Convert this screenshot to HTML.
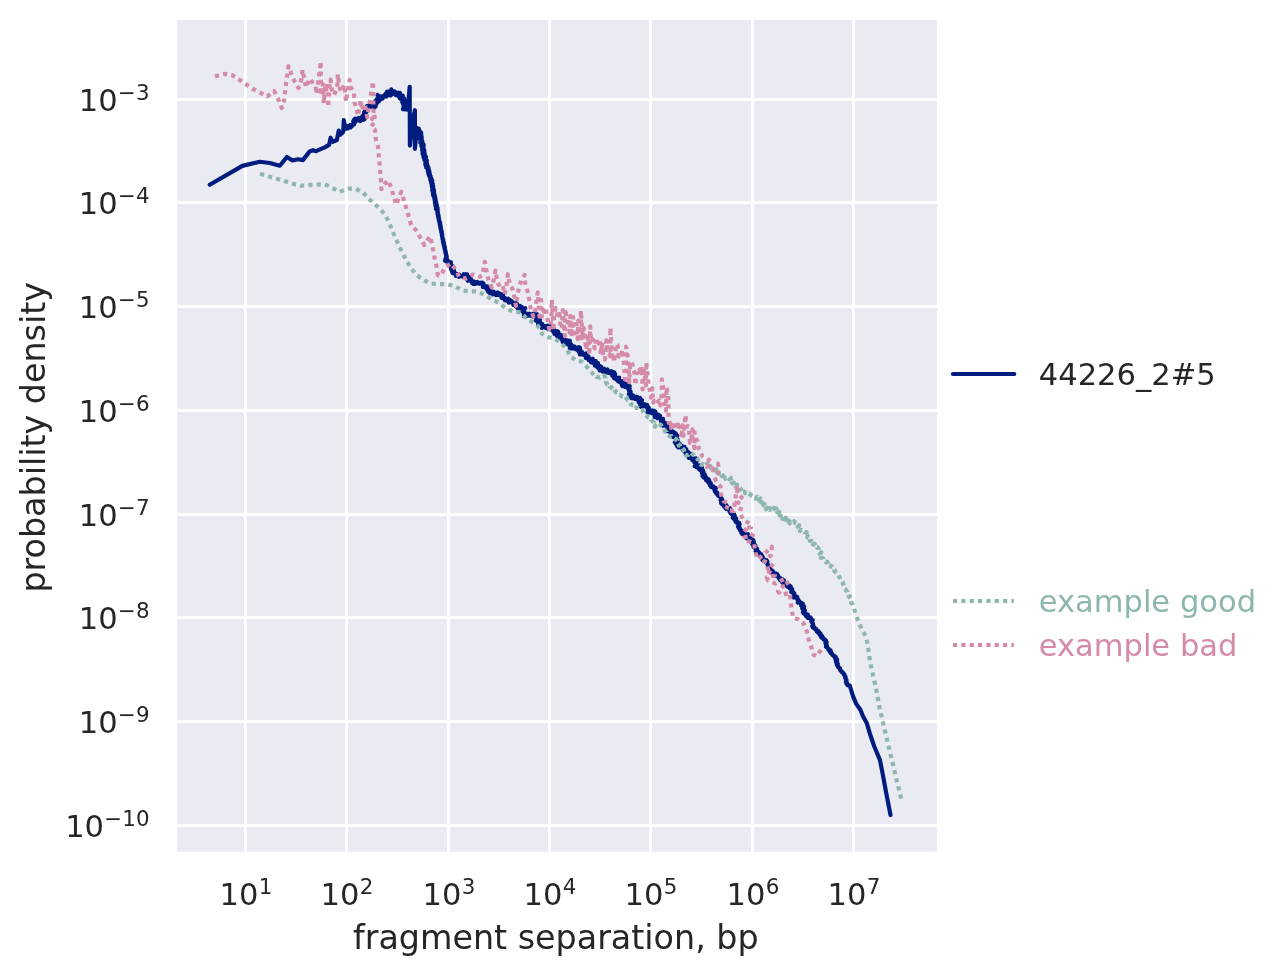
<!DOCTYPE html>
<html><head><meta charset="utf-8"><title>fragment separation</title>
<style>
html,body{margin:0;padding:0;background:#fff}
svg{display:block}
text{font-family:"DejaVu Sans","Liberation Sans",sans-serif;fill:#262626}
.t{font-size:30.56px}
.s{font-size:21.4px}
.l{font-size:33.33px}
</style></head><body>
<svg width="1283" height="976" viewBox="0 0 1283 976">
<rect x="0" y="0" width="1283" height="976" fill="#ffffff"/>
<rect x="177.2" y="19.9" width="759.8" height="831.85" fill="#eaeaf2"/>
<g stroke="#ffffff" stroke-width="3" stroke-linecap="butt">
<line x1="245.5" y1="19.9" x2="245.5" y2="851.75"/>
<line x1="346.5" y1="19.9" x2="346.5" y2="851.75"/>
<line x1="448.5" y1="19.9" x2="448.5" y2="851.75"/>
<line x1="549.5" y1="19.9" x2="549.5" y2="851.75"/>
<line x1="650.5" y1="19.9" x2="650.5" y2="851.75"/>
<line x1="752.5" y1="19.9" x2="752.5" y2="851.75"/>
<line x1="853.5" y1="19.9" x2="853.5" y2="851.75"/>
<line x1="177.2" y1="99.5" x2="937.0" y2="99.5"/>
<line x1="177.2" y1="202.5" x2="937.0" y2="202.5"/>
<line x1="177.2" y1="306.5" x2="937.0" y2="306.5"/>
<line x1="177.2" y1="410.5" x2="937.0" y2="410.5"/>
<line x1="177.2" y1="514.5" x2="937.0" y2="514.5"/>
<line x1="177.2" y1="617.5" x2="937.0" y2="617.5"/>
<line x1="177.2" y1="721.5" x2="937.0" y2="721.5"/>
<line x1="177.2" y1="825.5" x2="937.0" y2="825.5"/>
</g>
<clipPath id="c"><rect x="177.2" y="19.9" width="759.8" height="831.85"/></clipPath>
<g clip-path="url(#c)" fill="none" stroke-linejoin="round">
<path d="M209.7 184.8 L242.4 165.9 L259.6 161.8 L269.8 163.0 L279.8 165.7 L286.9 157.0 L292.5 160.5 L297.9 159.3 L302.9 160.1 L309.7 151.4 L312.9 150.2 L316.0 151.2 L324.7 147.4 L329.1 144.9 L330.6 137.7 L332.8 141.8 L336.9 140.0 L338.7 130.6 L340.3 134.7 L343.2 132.0 L343.8 120.2 L345.4 128.8 L346.2 128.7 L346.2 127.2 L347.8 128.4 L347.4 126.4 L348.5 126.6 L348.8 125.8 L350.7 127.4 L350.1 125.1 L351.8 126.3 L351.9 125.1 L352.7 125.0 L352.9 123.9 L354.1 124.4 L354.3 123.3 L353.3 121.1 L355.2 122.0 L354.1 119.7 L355.6 120.3 L355.1 118.6 L357.7 120.4 L357.4 118.8 L360.4 121.1 L358.6 117.9 L361.0 119.6 L360.9 118.2 L363.4 119.9 L361.7 117.0 L364.6 119.0 L362.7 115.8 L363.8 115.6 L364.5 115.1 L364.0 113.9 L365.3 113.8 L364.2 112.2 L366.1 112.5 L365.5 111.2 L364.9 109.9 L367.3 110.6 L366.2 109.1 L367.1 108.7 L366.8 107.7 L368.5 107.9 L367.0 106.0 L370.2 107.2 L369.8 106.0 L371.9 106.5 L370.2 104.6 L370.2 103.7 L372.0 105.6 L372.3 104.6 L374.6 107.5 L373.5 103.8 L375.7 106.5 L374.9 103.2 L376.1 104.0 L375.4 100.9 L377.2 102.9 L376.8 100.4 L376.8 99.0 L379.2 101.2 L378.2 98.5 L379.2 98.6 L377.6 94.9 L381.3 99.0 L380.5 96.4 L382.7 98.3 L382.4 96.6 L383.1 96.0 L383.9 95.8 L384.6 95.0 L385.4 96.4 L386.1 96.6 L386.0 93.3 L387.1 94.5 L387.1 91.5 L388.9 95.2 L388.8 91.7 L390.6 95.3 L391.3 89.4 L392.0 94.5 L392.8 93.1 L393.7 91.4 L394.2 93.7 L395.1 91.7 L395.5 94.8 L396.1 95.2 L398.4 92.8 L398.0 94.9 L400.0 93.0 L398.8 96.4 L399.2 97.1 L402.8 95.6 L399.9 98.5 L403.0 97.4 L401.3 99.4 L404.1 98.4 L403.0 100.0 L404.0 100.3 L402.3 102.3 L405.7 101.0 L403.0 103.7 L405.5 103.0 L403.6 105.1 L405.1 105.0 L403.5 107.0 L405.1 106.9 L403.0 109.2 L405.8 108.2 L405.2 109.5 L407.7 108.8 L407.6 109.8 L409.7 86.8 L409.9 145.6 L412.3 122.4 L414.9 110.2 L414.9 148.8 L417.0 128.0 L416.8 129.1 L418.8 128.6 L417.7 130.4 L419.3 130.1 L418.9 131.4 L419.8 131.7 L421.0 132.3 L419.4 133.4 L421.3 133.8 L419.4 135.0 L421.2 135.4 L419.1 136.6 L421.7 136.9 L420.4 138.0 L421.6 138.5 L420.1 139.6 L421.8 140.1 L420.6 141.1 L422.3 141.6 L420.3 142.8 L422.7 143.1 L421.6 144.1 L423.6 144.6 L421.3 145.8 L423.6 146.2 L421.9 147.3 L423.4 147.8 L422.4 148.8 L424.0 149.3 L422.2 150.4 L424.4 150.8 L422.8 151.9 L424.0 152.5 L422.6 153.5 L424.8 153.9 L423.2 155.0 L424.9 155.5 L423.5 156.5 L426.0 156.9 L423.8 158.1 L424.8 158.7 L425.8 159.2 L424.6 160.3 L426.8 160.4 L425.6 161.6 L426.7 162.0 L425.4 163.2 L427.0 163.5 L425.4 164.8 L427.2 165.0 L426.1 166.2 L427.9 166.4 L426.3 167.7 L428.5 167.8 L428.0 168.7 L427.7 169.6 L429.0 170.1 L428.0 171.2 L429.4 171.6 L428.3 172.8 L429.6 173.2 L428.6 174.3 L430.0 174.8 L429.1 175.8 L430.6 176.3 L429.9 177.3 L430.9 177.8 L430.3 178.8 L431.7 179.3 L430.5 180.4 L432.2 180.8 L431.1 181.9 L432.2 182.5 L431.4 183.5 L432.8 183.9 L432.3 184.9 L431.8 185.8 L433.2 186.3 L432.1 187.3 L433.1 187.9 L432.4 188.9 L433.8 189.4 L432.3 190.5 L434.0 191.0 L432.9 192.0 L434.0 192.6 L433.0 193.5 L434.3 194.1 L433.2 195.1 L434.8 195.6 L433.7 196.6 L435.0 197.2 L434.4 198.1 L435.4 198.7 L434.6 199.6 L435.6 200.2 L435.0 201.2 L436.0 201.8 L435.0 202.8 L436.2 203.3 L435.4 204.3 L436.7 204.8 L435.5 205.9 L437.1 206.4 L436.1 207.3 L437.4 207.9 L436.0 209.0 L437.7 209.4 L436.9 210.4 L437.3 211.1 L437.8 211.8 L437.4 212.7 L438.0 213.4 L437.6 214.3 L438.4 214.9 L438.0 215.8 L438.7 216.5 L438.2 217.4 L438.9 218.1 L438.6 218.9 L439.1 219.6 L438.9 220.5 L439.6 221.2 L439.3 222.1 L440.1 222.7 L439.6 223.6 L440.3 224.3 L440.0 225.2 L440.6 225.9 L440.2 226.7 L440.9 227.4 L440.5 228.3 L441.1 229.0 L441.1 229.8 L441.0 230.6 L441.7 231.3 L441.3 232.1 L441.8 232.9 L441.6 233.7 L442.2 234.4 L441.9 235.2 L442.3 235.9 L442.1 236.8 L442.4 237.5 L442.7 238.2 L442.5 239.1 L443.2 239.7 L442.9 240.6 L443.5 241.3 L443.1 242.1 L443.8 242.8 L443.4 243.7 L444.0 244.4 L443.8 245.2 L444.5 245.8 L444.1 246.7 L444.9 247.4 L444.5 248.3 L445.1 248.9 L444.9 249.8 L445.4 250.5 L445.2 251.3 L445.8 252.0 L445.5 252.9 L446.1 253.5 L445.9 254.4 L446.5 255.1 L446.1 255.9 L446.8 256.6 L446.7 257.4 L445.5 258.9 L446.7 259.1 L445.1 260.8 L447.7 260.2 L446.6 261.6 L448.6 261.3 L449.2 261.8 L448.8 263.2 L451.0 262.4 L449.6 264.5 L451.1 264.4 L450.1 266.1 L452.0 265.6 L451.0 267.4 L452.8 267.0 L453.6 267.4 L451.0 269.0 L453.3 269.1 L451.6 270.4 L454.0 270.4 L452.2 271.7 L454.2 271.8 L452.6 273.1 L455.4 273.0 L455.7 274.2 L455.9 275.8 L457.5 274.1 L457.6 275.8 L459.0 274.4 L458.9 276.8 L460.2 275.7 L461.1 275.5 L462.2 276.5 L462.7 275.8 L463.6 276.1 L463.8 274.2 L465.0 275.6 L465.4 274.2 L467.1 274.4 L464.8 276.0 L467.5 275.9 L466.5 277.0 L469.1 276.9 L466.7 278.5 L469.2 278.5 L467.3 279.9 L467.9 280.7 L469.4 277.8 L469.6 280.2 L470.8 278.7 L470.9 281.2 L471.9 280.5 L472.1 283.1 L473.1 282.2 L473.5 284.0 L474.8 281.7 L475.1 283.0 L475.6 283.8 L477.3 281.9 L477.5 283.5 L478.7 282.7 L479.2 283.6 L480.4 282.8 L480.9 283.5 L482.1 282.7 L482.4 284.1 L483.5 283.5 L483.5 285.5 L482.9 287.0 L485.3 286.1 L484.9 287.5 L487.3 286.5 L486.4 288.2 L488.4 287.7 L487.0 289.8 L488.4 289.7 L487.9 291.1 L488.5 291.9 L489.4 290.3 L489.8 293.1 L490.6 292.1 L491.2 293.3 L492.1 291.5 L492.6 293.5 L493.5 291.7 L493.6 292.6 L493.0 294.4 L495.2 292.9 L495.3 293.8 L497.4 292.4 L496.0 295.1 L497.2 294.8 L498.0 293.1 L498.7 295.1 L499.5 293.5 L500.2 293.8 L501.0 294.8 L503.0 294.1 L501.4 296.3 L503.0 296.0 L501.7 298.0 L503.4 297.5 L503.3 298.5 L505.0 298.0 L504.7 299.2 L505.0 300.4 L506.3 299.5 L506.5 300.7 L508.3 298.7 L508.1 300.9 L509.4 300.0 L508.9 302.7 L510.8 300.5 L510.8 302.3 L512.1 301.5 L512.2 302.9 L513.1 303.0 L514.0 303.1 L513.4 304.9 L516.0 303.1 L515.5 304.8 L517.1 304.0 L516.0 306.5 L517.2 306.2 L517.2 307.3 L517.7 308.5 L518.9 306.2 L519.2 308.4 L520.4 306.0 L520.6 309.1 L521.7 306.9 L522.2 308.3 L522.6 308.8 L525.2 308.2 L522.3 310.7 L524.4 310.2 L522.8 312.0 L524.0 312.1 L524.7 312.5 L523.8 316.3 L525.8 313.8 L525.3 316.7 L527.5 313.9 L527.4 315.7 L529.3 313.7 L529.6 314.8 L530.1 315.5 L531.6 314.3 L531.5 315.9 L533.6 313.8 L532.8 316.6 L535.3 313.8 L534.8 316.2 L536.8 314.1 L535.8 317.5 L537.2 316.5 L535.8 320.6 L537.3 319.4 L537.3 320.8 L538.7 319.9 L540.1 319.7 L538.0 322.9 L539.8 322.2 L538.2 324.9 L541.0 323.2 L539.4 325.9 L542.4 324.1 L541.3 326.4 L542.6 326.2 L542.0 327.9 L544.9 326.1 L545.8 326.0 L545.5 327.9 L547.7 325.6 L547.0 328.3 L549.2 325.9 L548.2 329.2 L550.7 326.3 L550.7 327.8 L551.8 327.3 L551.2 329.8 L552.0 329.9 L553.3 327.6 L553.2 331.7 L554.4 330.1 L554.4 334.0 L555.7 331.7 L555.9 334.3 L557.4 331.1 L558.1 331.6 L556.4 334.4 L558.7 333.2 L556.9 336.1 L559.0 335.1 L558.2 337.1 L561.2 335.2 L560.3 337.2 L563.0 335.6 L561.1 338.7 L563.6 337.3 L563.3 338.8 L562.4 341.0 L564.7 339.5 L563.1 342.4 L566.1 340.3 L565.7 341.8 L567.8 340.6 L566.5 343.3 L569.8 340.7 L567.5 344.4 L569.9 342.9 L570.3 343.6 L569.6 345.8 L571.4 344.8 L569.8 348.1 L572.1 346.6 L571.4 348.6 L574.3 346.4 L573.5 348.5 L575.5 347.4 L576.1 347.9 L576.0 349.4 L578.6 347.1 L578.2 349.0 L579.9 347.8 L578.5 351.2 L580.4 349.7 L579.3 352.6 L580.8 351.8 L579.9 354.5 L582.4 352.3 L582.3 353.7 L582.7 354.6 L583.5 354.7 L584.1 355.1 L586.2 353.4 L585.4 356.0 L586.6 355.5 L585.8 358.1 L588.0 356.1 L588.6 356.6 L588.0 358.8 L589.2 358.4 L588.8 360.2 L590.4 359.4 L590.6 360.4 L592.7 358.7 L591.1 362.3 L592.8 361.2 L592.6 362.8 L594.8 361.0 L595.8 361.1 L594.3 363.9 L595.3 363.9 L594.9 365.6 L598.0 363.1 L597.0 365.4 L598.3 365.2 L597.4 367.3 L599.6 366.0 L598.6 368.3 L601.1 366.6 L601.1 367.8 L599.8 370.5 L602.3 368.7 L601.8 370.5 L604.2 368.7 L602.8 371.6 L605.4 369.6 L604.9 371.4 L607.4 369.5 L606.0 372.5 L607.5 371.8 L608.9 371.4 L608.6 372.9 L611.2 371.2 L610.6 373.1 L612.6 372.0 L611.7 374.2 L614.3 372.5 L612.4 375.8 L615.1 374.0 L613.5 376.9 L615.2 376.2 L614.3 378.4 L615.0 378.7 L617.0 377.8 L617.0 378.9 L619.2 377.6 L617.3 380.6 L618.8 380.2 L618.4 381.6 L619.6 381.5 L619.9 382.2 L622.1 381.2 L621.5 382.8 L623.1 382.2 L621.8 384.6 L623.4 384.0 L622.4 386.1 L623.6 385.7 L625.7 383.8 L624.7 386.8 L627.0 384.6 L626.4 386.9 L628.0 385.9 L627.7 387.6 L629.7 386.1 L628.5 389.2 L629.7 388.8 L629.1 390.9 L629.9 391.1 L630.6 391.5 L628.9 394.2 L630.7 393.5 L629.5 395.8 L631.7 394.7 L630.7 396.8 L633.0 395.5 L631.5 398.1 L633.6 397.1 L633.3 398.5 L636.0 396.8 L635.1 398.8 L637.7 397.2 L637.4 398.6 L637.2 399.8 L640.1 398.0 L638.6 400.6 L640.9 399.4 L638.9 402.5 L642.1 400.3 L640.9 402.6 L641.6 403.0 L640.2 405.4 L642.0 404.7 L641.0 406.8 L644.6 404.2 L643.6 406.3 L644.9 406.1 L647.2 404.9 L646.3 406.9 L647.8 406.4 L647.3 408.0 L648.8 407.6 L647.8 409.7 L649.0 409.5 L647.4 412.2 L650.2 410.4 L649.0 412.7 L652.3 410.5 L651.9 411.9 L654.2 410.8 L652.4 413.6 L654.0 412.6 L655.4 411.8 L654.8 414.1 L656.1 413.4 L654.6 417.0 L657.3 414.4 L656.8 416.4 L658.7 414.9 L657.4 418.2 L660.0 415.7 L659.3 418.2 L659.9 418.6 L661.2 418.5 L660.8 419.8 L663.1 418.9 L661.1 421.6 L662.9 421.0 L661.9 422.9 L663.8 422.3 L663.0 424.0 L665.2 423.0 L663.2 425.8 L667.3 423.3 L665.6 425.7 L668.9 423.9 L668.0 425.7 L667.3 427.3 L669.4 426.6 L667.2 429.4 L669.6 428.5 L667.5 431.2 L670.8 429.6 L669.3 431.8 L670.9 431.5 L670.5 432.9 L673.2 431.7 L673.4 432.5 L674.7 432.5 L672.6 435.2 L675.9 433.6 L673.0 436.9 L674.8 436.5 L677.2 435.6 L675.3 438.1 L676.7 438.0 L676.0 439.5 L677.6 439.3 L674.8 442.3 L677.7 441.1 L675.7 443.6 L677.6 443.2 L676.6 444.9 L679.6 443.6 L677.3 446.4 L679.9 445.3 L678.4 447.5 L681.9 445.9 L682.3 446.5 L681.7 447.9 L684.5 446.8 L682.6 449.1 L683.6 449.4 L683.4 450.5 L686.4 449.3 L685.2 451.1 L686.4 451.1 L685.4 452.9 L687.9 452.0 L686.9 453.7 L689.1 453.0 L688.2 454.6 L690.7 453.8 L688.9 456.0 L690.8 455.6 L688.8 458.0 L691.8 456.8 L691.0 458.3 L692.9 457.9 L692.8 459.0 L692.4 460.2 L696.0 458.4 L694.3 460.7 L696.6 459.9 L694.5 462.5 L696.6 461.8 L695.4 463.7 L696.2 464.1 L694.7 466.2 L696.6 465.7 L696.2 467.0 L699.3 465.5 L698.5 467.1 L700.4 466.6 L698.7 468.9 L701.9 467.4 L699.9 469.9 L700.7 470.4 L702.9 470.1 L701.7 471.5 L703.5 471.5 L702.0 473.1 L703.0 473.5 L702.6 474.5 L704.8 474.3 L702.6 476.2 L705.2 475.8 L703.7 477.4 L704.3 477.9 L706.1 477.3 L705.7 478.7 L707.1 478.5 L706.2 480.3 L708.6 479.3 L708.1 480.7 L709.3 480.6 L708.4 482.5 L709.9 482.2 L709.4 483.6 L710.9 483.3 L709.9 485.2 L711.0 485.2 L711.2 486.1 L711.1 487.2 L713.3 486.3 L713.0 487.6 L714.4 487.4 L714.1 488.6 L715.8 488.2 L714.5 490.3 L715.4 490.6 L715.1 491.8 L716.1 491.9 L716.0 493.0 L717.4 492.8 L717.0 494.2 L718.2 494.2 L718.6 494.8 L718.3 495.9 L720.4 495.5 L720.1 496.6 L720.7 497.2 L720.8 498.1 L721.7 498.4 L720.6 500.0 L722.3 500.0 L721.1 501.6 L722.2 501.9 L721.2 503.4 L722.9 503.3 L722.4 504.5 L724.3 504.2 L724.9 504.8 L724.1 506.5 L726.4 505.5 L725.1 507.6 L727.3 506.7 L725.9 508.8 L728.3 507.8 L728.2 508.9 L730.0 508.3 L729.2 510.0 L730.6 509.8 L729.6 511.6 L731.4 511.1 L731.1 512.3 L730.7 513.4 L732.7 513.3 L732.0 514.5 L734.2 514.3 L733.6 515.5 L734.8 515.8 L732.8 517.7 L735.1 517.4 L733.9 518.9 L736.3 518.6 L734.9 520.2 L736.1 520.5 L735.6 521.6 L736.1 522.3 L737.9 522.0 L737.4 523.2 L739.2 522.9 L738.6 524.3 L739.6 524.5 L738.0 526.6 L739.1 526.7 L738.7 527.9 L739.8 528.1 L739.5 529.2 L740.5 529.4 L740.3 530.5 L741.3 530.8 L742.3 531.0 L741.4 532.9 L742.6 532.7 L742.3 534.1 L744.3 533.3 L744.0 534.6 L745.7 534.1 L745.7 535.1 L747.9 534.1 L746.8 536.2 L747.4 536.7 L746.6 538.4 L748.5 537.7 L748.6 538.6 L751.0 537.5 L750.0 539.4 L751.2 539.6 L752.7 539.6 L751.9 541.0 L753.6 540.9 L753.0 542.2 L753.9 542.6 L752.4 544.5 L753.8 544.5 L754.2 545.2 L755.4 545.4 L753.7 547.4 L755.0 547.5 L755.5 548.1 L755.7 548.9 L757.1 548.7 L755.6 551.1 L757.4 550.5 L756.9 552.0 L758.4 551.7 L757.4 553.6 L759.4 552.9 L758.5 554.7 L760.4 554.0 L761.2 554.3 L760.0 556.0 L762.0 555.6 L762.0 556.5 L762.8 557.0 L762.2 558.3 L763.4 558.4 L762.5 559.9 L764.4 559.6 L763.8 561.0 L766.6 560.2 L765.2 561.9 L767.5 561.4 L766.4 563.1 L767.3 563.4 L767.6 564.1 L768.2 564.7 L767.9 565.8 L768.7 566.2 L769.3 566.7 L768.7 568.0 L770.1 568.0 L769.1 569.5 L770.6 569.4 L770.4 570.5 L771.9 570.3 L770.8 571.9 L773.1 571.3 L771.8 573.1 L773.3 573.0 L773.7 573.6 L773.8 574.8 L775.8 573.4 L774.9 575.9 L777.2 574.1 L777.1 575.7 L778.1 575.6 L778.1 576.9 L778.7 577.4 L779.7 577.6 L779.3 579.0 L780.7 578.8 L780.2 580.3 L782.4 579.5 L782.3 580.6 L783.9 580.3 L782.4 582.5 L783.3 582.9 L783.6 583.6 L783.8 584.6 L785.6 583.4 L785.4 584.9 L786.3 584.9 L786.5 585.8 L788.4 584.6 L787.6 586.8 L789.5 585.6 L789.4 586.9 L790.7 586.4 L789.9 588.6 L791.1 588.8 L792.2 589.1 L791.9 590.2 L792.3 590.8 L791.3 592.1 L793.1 592.1 L793.1 592.9 L794.3 593.2 L793.7 594.3 L794.1 595.0 L793.6 596.1 L793.3 597.5 L795.7 596.2 L795.7 597.3 L797.2 596.9 L796.6 598.7 L797.7 598.7 L797.8 599.7 L798.6 600.0 L798.6 601.1 L797.8 602.6 L800.0 602.0 L799.7 603.1 L801.4 602.8 L801.3 603.8 L802.8 603.7 L801.2 605.7 L802.9 605.5 L802.1 606.9 L804.2 606.4 L802.3 608.6 L803.6 608.6 L804.1 609.2 L803.9 610.2 L805.0 610.6 L803.0 612.3 L804.5 612.5 L803.9 613.6 L805.8 613.7 L805.9 614.5 L807.9 614.5 L806.0 616.2 L808.3 616.0 L807.3 617.3 L807.9 617.8 L809.2 617.1 L809.4 618.2 L810.7 617.6 L810.8 618.9 L811.1 619.8 L812.7 620.0 L811.3 621.4 L812.2 621.9 L812.2 622.8 L812.9 623.3 L812.7 624.3 L813.2 624.9 L812.2 626.2 L813.4 626.5 L812.9 627.6 L814.7 627.7 L814.8 628.5 L815.1 629.2 L816.3 629.2 L816.2 630.2 L816.9 630.6 L816.8 631.6 L818.5 631.2 L818.0 632.5 L819.2 632.4 L819.0 633.6 L820.4 633.4 L819.8 634.8 L820.7 634.9 L821.5 635.2 L821.0 636.9 L822.4 636.5 L822.1 637.9 L823.2 637.8 L823.6 638.5 L823.6 639.4 L825.0 639.6 L824.9 640.5 L826.1 640.8 L825.7 641.9 L826.6 642.4 L825.6 643.6 L826.4 644.2 L826.1 645.2 L826.9 645.6 L826.0 646.9 L827.3 647.2 L827.6 647.9 L827.8 648.6 L828.9 649.0 L828.5 650.0 L829.3 650.4 L830.6 650.4 L829.9 651.9 L831.2 651.8 L830.8 653.2 L831.9 653.3 L832.1 654.1 L832.4 654.9 L833.3 655.2 L833.5 656.0 L834.8 656.0 L834.6 657.1 L835.8 657.2 L835.4 658.4 L835.5 659.3 L837.1 659.6 L835.9 660.7 L837.1 661.1 L836.2 662.1 L837.2 662.5 L836.7 663.5 L837.8 663.9 L836.9 664.9 L837.4 665.5 L838.1 666.0 L838.0 666.9 L838.9 667.2 L839.0 668.0 L840.0 668.3 L839.9 669.3 L840.5 669.8 L840.5 670.7 L841.1 671.2 L841.9 671.4 L842.0 672.3 L842.9 672.5 L843.1 673.2 L843.7 673.6 L843.8 674.5 L844.6 674.8 L844.8 675.5 L844.8 676.3 L845.5 676.9 L845.1 677.7 L845.8 678.3 L845.7 679.1 L846.4 679.7 L846.1 680.6 L846.5 681.2 L846.0 682.1 L846.9 682.7 L846.5 683.6 L847.3 684.1 L847.3 684.9 L847.9 685.3 L848.6 685.1 L849.1 685.6 L849.8 685.5 L853.0 696.1 L856.1 703.6 L860.4 709.8 L862.9 716.0 L866.7 722.9 L869.9 733.7 L874.2 746.2 L879.9 759.9 L882.4 772.4 L886.1 792.3 L890.5 815.0" stroke="#001c7f" stroke-width="4.17" stroke-linecap="round"/>
<path d="M260.1 173.8 L276.1 178.6 L292.3 183.6 L300.4 185.8 L308.5 185.2 L317.2 184.6 L324.7 184.3 L332.2 187.9 L339.7 191.7 L348.4 188.6 L355.9 188.8 L363.1 192.4 L368.5 198.6 L375.0 204.2 L381.0 209.8 L385.9 216.3 L389.7 223.8 L392.7 231.6 L396.2 239.5 L399.5 247.0 L403.1 254.3 L407.2 261.8 L411.4 268.6 L416.4 274.9 L423.4 279.9 L430.5 283.6 L438.6 284.2 L447.3 284.2 L454.8 286.1 L462.3 290.5 L469.8 291.3 L477.3 291.3 L484.8 294.8 L491.6 299.2 L499.1 302.9 L506.0 308.5 L513.4 311.7 L520.9 312.3 L525.3 317.3 L531.8 321.7 L538.1 326.1 L541.8 333.6 L548.7 337.3 L554.9 338.6 L560.5 342.9 L566.8 348.5 L569.9 356.0 L576.1 360.4 L581.7 361.6 L587.3 367.2 L594.2 375.4 L594.8 376.5 L596.1 375.9 L596.6 377.0 L597.7 376.9 L598.6 377.2 L599.6 377.7 L600.4 377.0 L601.4 377.1 L602.1 376.4 L603.2 377.2 L604.0 376.3 L604.8 375.8 L604.7 376.7 L605.4 377.6 L605.0 378.6 L605.9 379.3 L605.7 380.3 L606.4 381.1 L605.9 382.1 L606.2 383.0 L607.1 383.3 L607.2 384.6 L608.3 384.6 L608.4 385.9 L609.8 385.7 L609.9 387.0 L610.9 387.1 L611.8 387.4 L611.9 388.7 L613.1 388.7 L613.3 389.9 L614.7 389.8 L614.7 391.1 L615.9 391.2 L616.0 392.4 L617.3 392.4 L617.5 393.5 L618.3 394.0 L618.7 395.0 L620.0 394.9 L620.7 395.5 L621.4 396.4 L622.5 396.1 L623.2 396.7 L624.3 396.4 L624.9 397.3 L625.9 397.3 L626.8 397.4 L626.5 398.7 L627.4 399.3 L627.6 400.4 L628.9 400.7 L629.1 401.7 L629.9 402.4 L630.4 403.1 L630.7 404.0 L631.9 404.2 L632.2 405.1 L633.4 405.3 L633.4 406.4 L634.6 406.7 L634.3 408.0 L635.3 407.7 L636.2 407.7 L637.1 408.1 L638.1 407.7 L639.0 408.7 L639.9 408.6 L641.0 408.8 L641.1 410.0 L642.4 410.1 L642.7 411.1 L643.6 411.6 L643.3 413.0 L644.3 413.4 L644.5 414.4 L645.5 414.8 L646.2 415.4 L646.7 416.1 L647.6 416.5 L647.9 417.5 L649.0 417.6 L649.2 418.8 L650.2 418.9 L651.1 419.2 L651.1 420.2 L652.3 420.7 L652.7 421.6 L653.7 422.1 L653.3 423.3 L654.1 423.9 L654.1 425.0 L655.2 425.5 L654.9 426.7 L655.6 426.0 L655.9 425.0 L656.9 424.5 L656.8 423.2 L658.0 422.9 L658.9 423.4 L659.6 424.0 L660.1 424.8 L661.2 425.1 L661.3 426.2 L662.5 426.5 L662.6 427.6 L663.4 428.1 L663.6 429.2 L664.2 430.0 L665.1 430.6 L665.4 431.6 L666.6 431.9 L666.6 433.2 L667.7 433.5 L667.8 434.8 L668.6 435.4 L669.4 436.0 L670.2 436.6 L671.5 436.2 L672.0 437.5 L673.3 437.0 L674.0 437.9 L674.8 438.5 L676.0 438.8 L676.0 439.9 L677.1 440.3 L676.8 441.5 L677.8 442.0 L677.7 443.1 L678.4 443.7 L678.6 444.6 L678.7 445.6 L680.1 445.3 L680.1 446.6 L681.1 446.8 L681.4 448.0 L682.4 448.1 L682.8 449.0 L683.7 449.3 L684.1 450.2 L683.9 451.3 L684.6 452.1 L684.1 453.3 L685.3 453.9 L685.3 454.9 L686.2 455.6 L686.9 454.9 L688.3 455.0 L688.8 454.0 L689.8 453.7 L690.0 452.4 L690.9 452.8 L691.6 453.4 L692.5 453.8 L692.9 454.9 L694.0 455.0 L694.4 456.1 L695.6 456.1 L696.2 456.8 L696.6 457.7 L697.3 458.4 L697.5 459.4 L698.3 460.1 L698.0 461.4 L698.8 462.1 L698.5 463.3 L699.9 463.7 L700.8 464.5 L701.8 465.1 L702.7 463.9 L703.6 464.6 L704.6 463.4 L705.5 465.1 L706.5 463.9 L707.4 463.7 L706.9 465.8 L708.5 465.4 L708.3 467.2 L710.4 466.2 L710.4 467.7 L711.6 467.8 L712.2 468.6 L713.6 468.4 L713.2 470.4 L714.9 469.9 L716.2 469.4 L716.0 471.6 L717.2 471.3 L717.6 472.5 L718.8 472.2 L718.8 473.9 L720.6 472.6 L721.1 473.6 L721.3 474.5 L722.6 474.9 L721.9 476.2 L723.9 476.3 L723.7 477.3 L724.9 477.8 L723.6 479.3 L724.4 479.1 L724.9 477.6 L726.0 478.4 L726.7 477.5 L727.6 477.7 L728.6 478.0 L730.8 477.7 L729.8 479.5 L731.1 479.8 L730.2 481.6 L731.9 481.6 L731.7 482.9 L732.4 483.6 L733.9 482.6 L733.9 484.8 L735.1 484.4 L735.4 485.9 L737.0 484.8 L737.2 486.3 L738.2 486.5 L738.4 488.1 L739.8 487.4 L740.4 488.1 L740.3 489.8 L741.5 490.0 L741.7 491.3 L743.3 490.8 L743.1 492.6 L744.8 492.0 L745.1 493.2 L747.0 492.5 L747.3 493.6 L748.0 494.3 L749.5 493.7 L750.0 494.7 L751.2 494.6 L751.6 495.9 L752.7 495.9 L752.8 497.5 L753.9 497.6 L754.8 498.0 L755.6 498.7 L757.1 496.6 L757.7 498.4 L758.8 498.1 L759.1 500.6 L760.6 498.5 L761.1 500.6 L762.3 499.8 L762.8 500.5 L761.4 502.7 L763.5 502.2 L761.9 504.5 L764.4 503.8 L763.7 505.4 L766.0 504.8 L766.1 505.9 L765.8 507.2 L766.8 507.6 L766.0 509.3 L769.2 508.0 L769.1 509.2 L769.8 509.8 L769.6 508.1 L772.2 510.0 L772.0 508.3 L773.6 509.0 L773.8 507.8 L775.2 508.1 L774.8 506.1 L776.0 506.7 L774.1 508.4 L776.5 508.5 L776.0 509.7 L778.3 509.8 L777.7 511.1 L777.2 512.3 L779.3 511.9 L778.5 513.8 L781.1 513.0 L779.7 515.4 L780.8 515.8 L780.1 517.7 L782.7 516.8 L782.2 518.5 L783.1 519.2 L784.0 518.8 L784.9 520.4 L785.8 517.7 L786.7 520.0 L787.6 517.8 L788.5 518.5 L786.0 520.0 L788.5 520.3 L787.5 521.4 L790.5 521.5 L789.1 522.8 L789.7 523.5 L790.6 522.0 L791.5 523.0 L792.4 522.6 L793.3 523.0 L794.2 521.1 L795.1 522.9 L796.0 523.5 L797.2 524.1 L796.5 525.4 L799.2 525.4 L797.8 526.9 L799.1 527.5 L798.3 528.8 L798.4 529.8 L799.6 529.4 L799.9 531.2 L801.5 529.9 L802.2 530.7 L803.5 530.1 L804.1 531.2 L804.7 532.3 L806.7 532.2 L805.4 533.9 L806.6 534.3 L805.7 535.8 L807.6 535.7 L807.3 536.9 L807.6 537.9 L809.0 537.9 L808.9 539.2 L810.5 539.0 L809.9 540.9 L811.3 540.9 L810.8 542.6 L812.3 542.5 L813.4 542.8 L812.9 544.5 L814.9 543.9 L815.1 545.0 L816.3 545.1 L815.8 546.8 L817.1 546.9 L817.3 548.0 L818.5 548.1 L818.6 549.3 L818.6 550.3 L820.0 550.8 L819.3 552.1 L821.3 552.3 L819.6 554.1 L821.1 554.5 L820.8 555.6 L821.9 556.2 L820.8 557.7 L822.3 558.1 L823.1 558.6 L823.2 560.0 L824.3 560.1 L824.6 561.3 L825.6 561.4 L826.1 562.4 L827.6 562.0 L827.6 563.6 L828.8 563.5 L829.8 563.7 L829.2 565.3 L830.6 565.5 L830.7 566.6 L832.3 566.6 L832.5 567.7 L833.6 568.1 L833.8 569.1 L834.6 569.7 L834.3 571.1 L835.4 571.5 L835.5 572.6 L836.6 573.0 L837.0 573.9 L837.4 574.8 L838.5 575.1 L838.8 576.1 L839.5 576.8 L839.6 577.9 L840.3 578.6 L840.5 579.6 L841.6 580.0 L841.8 581.0 L842.3 581.8 L843.1 582.4 L842.7 583.6 L843.5 584.2 L843.5 585.2 L844.1 585.9 L844.0 586.9 L844.7 587.6 L844.4 588.6 L845.4 589.2 L845.9 590.0 L846.1 590.9 L847.3 591.4 L847.2 592.5 L847.7 593.2 L847.7 594.3 L848.7 594.8 L848.6 595.9 L849.9 596.3 L849.6 597.5 L850.3 598.2 L850.4 599.2 L850.6 600.1 L851.4 600.9 L851.0 602.1 L851.8 602.8 L851.9 603.8 L852.6 604.5 L852.8 605.5 L853.6 606.2 L853.5 607.3 L856.0 614.2 L858.5 622.3 L862.2 629.8 L865.9 636.6 L867.9 645.0 L868.8 653.1 L870.0 661.2 L871.7 669.3 L873.5 677.4 L875.4 685.5 L877.0 693.6 L878.5 701.7 L880.0 709.8 L882.0 717.9 L883.8 726.2 L885.8 734.3 L887.7 742.4 L889.6 750.6 L891.5 758.7 L893.6 766.8 L895.4 774.9 L897.3 783.0 L899.4 791.1 L901.3 799.2 L902.0 801.5" stroke="#8db7ae" stroke-width="4.17" stroke-dasharray="4.17 4.17" stroke-linecap="butt"/>
<path d="M215.0 76.4 L224.3 73.9 L231.8 74.9 L239.3 79.7 L253.0 88.9 L267.3 96.4 L274.2 91.1 L277.9 98.6 L281.7 108.0 L284.2 99.9 L286.0 83.6 L288.5 66.2 L291.0 73.0 L294.2 80.5 L298.5 88.0 L301.6 78.7 L302.5 69.9 L306.0 87.4 L309.7 78.7 L312.7 82.7 L315.5 86.0 L316.6 94.0 L320.8 61.5 L320.9 95.2 L322.8 84.0 L323.8 103.2 L325.4 85.0 L326.6 92.0 L327.6 82.0 L328.2 107.0 L329.4 88.0 L330.6 79.6 L331.5 88.6 L334.1 94.9 L337.2 87.4 L337.8 74.3 L339.0 83.6 L340.9 91.8 L344.7 84.9 L345.9 101.7 L349.6 79.9 L350.9 87.4 L354.0 93.6 L354.5 102.4 L356.2 108.4 L358.1 115.8 L360.9 99.9 L361.8 110.2 L364.6 103.7 L366.1 109.9 L367.2 117.2 L373.1 81.5 L373.5 112.0 L372.1 119.0 L374.5 114.0 L374.6 122.0 L371.2 126.5 L375.0 130.0 L375.8 139.2 L378.1 146.8 L378.7 154.9 L379.6 163.7 L380.2 171.8 L381.0 179.9 L381.4 189.2 L384.3 184.2 L388.1 180.5 L391.4 188.0 L393.7 196.7 L396.2 204.8 L398.7 198.0 L401.2 192.0 L403.9 200.5 L406.4 208.6 L408.6 216.0 L411.1 224.8 L416.1 230.4 L420.5 237.9 L424.3 244.9 L429.9 236.2 L431.8 243.1 L433.4 251.2 L434.9 259.7 L436.7 267.4 L438.0 275.5 L441.7 273.6 L445.5 266.8 L451.1 263.4 L455.4 269.3 L459.2 276.7 L466.0 278.6 L472.9 274.6 L479.8 276.7 L482.9 274.9 L483.5 267.4 L484.8 261.8 L486.6 271.1 L488.5 279.9 L491.6 287.3 L494.1 278.6 L495.4 270.5 L496.6 277.4 L498.5 284.8 L502.2 283.6 L504.7 294.2 L506.0 288.0 L507.2 280.5 L507.8 274.2 L509.7 283.6 L512.8 289.8 L514.7 297.9 L515.9 306.0 L517.8 293.6 L519.7 284.8 L522.2 278.6 L524.7 274.9 L525.3 283.6 L527.8 292.3 L529.6 301.7 L530.9 309.8 L533.4 316.6 L535.9 307.9 L536.5 299.2 L537.8 292.3 L539.0 312.9 L540.1 320.4 L541.2 300.1 L541.7 316.6 L543.0 309.8 L543.9 311.5 L545.3 310.6 L545.9 307.9 L546.9 315.3 L548.1 322.4 L549.2 329.3 L550.5 327.3 L551.5 312.4 L551.8 299.8 L553.4 330.7 L554.3 313.3 L555.7 308.0 L556.6 309.4 L557.7 317.5 L558.9 316.4 L559.5 314.1 L560.6 328.8 L561.9 327.8 L562.8 310.1 L564.2 332.0 L565.0 336.3 L565.2 309.1 L567.3 322.3 L568.4 318.2 L569.5 332.3 L570.4 315.8 L571.6 336.8 L572.3 327.7 L573.2 317.0 L574.3 337.1 L575.6 320.1 L576.7 325.1 L577.6 339.1 L578.4 320.6 L579.5 333.3 L580.9 341.7 L580.8 310.7 L582.9 339.3 L583.8 328.2 L585.2 338.8 L586.0 349.7 L587.0 344.9 L588.1 336.8 L589.3 355.0 L590.2 326.3 L591.1 341.5 L592.6 339.2 L593.6 341.4 L594.6 348.5 L595.4 341.4 L596.7 345.0 L597.7 341.8 L598.7 343.5 L599.7 339.8 L600.9 354.4 L601.9 342.7 L603.1 353.9 L604.2 357.9 L605.0 359.7 L606.3 340.3 L607.2 348.8 L608.3 353.2 L609.1 353.2 L610.3 356.3 L610.4 327.8 L612.1 355.9 L613.2 353.2 L614.1 362.1 L615.2 353.1 L616.3 344.1 L617.5 344.9 L618.7 356.5 L619.4 355.1 L620.6 356.3 L621.7 352.6 L622.6 349.6 L623.9 363.4 L624.9 379.3 L625.9 374.5 L626.0 346.5 L628.1 358.4 L629.2 382.1 L629.9 367.9 L631.3 361.9 L632.5 364.4 L633.1 369.7 L634.3 372.0 L635.5 385.1 L636.4 373.5 L637.8 373.4 L638.5 374.8 L639.6 369.5 L640.8 373.7 L641.6 367.0 L642.6 389.4 L644.1 371.1 L644.8 375.1 L646.0 385.3 L646.3 362.1 L647.9 377.0 L648.9 387.4 L650.0 390.5 L650.9 397.7 L652.4 388.2 L653.0 402.7 L654.3 400.7 L655.3 400.7 L656.3 403.9 L657.3 401.9 L658.7 401.0 L659.4 400.3 L660.4 405.5 L661.6 396.0 L661.9 379.3 L663.8 391.7 L664.6 404.1 L665.9 410.7 L666.6 387.1 L668.2 396.0 L668.7 422.9 L670.1 422.9 L670.9 428.0 L671.9 421.6 L673.0 426.3 L674.0 426.0 L675.0 422.8 L676.6 429.6 L677.3 420.9 L678.7 430.0 L679.6 424.2 L680.6 422.9 L681.7 438.0 L682.5 425.4 L683.5 435.8 L684.9 424.4 L685.3 415.1 L686.9 426.7 L687.7 425.9 L688.8 427.9 L689.9 442.9 L691.2 440.3 L692.4 429.4 L692.9 441.2 L694.4 448.1 L694.6 432.3 L696.2 438.8 L697.4 440.8 L698.5 444.0 L698.7 448.7 L702.4 456.2 L711.2 461.2 L707.4 467.4 L712.4 469.9 L718.0 463.7 L719.3 469.9 L714.3 477.4 L716.8 482.4 L720.5 486.7 L721.1 494.8 L723.6 501.1 L728.6 503.6 L726.1 509.8 L733.6 511.1 L737.3 485.5 L737.3 493.6 L741.7 497.3 L736.7 501.7 L741.7 504.8 L739.8 512.3 L743.0 519.8 L749.8 523.5 L751.1 527.3 L743.6 528.5 L748.6 532.3 L752.9 535.4 L744.2 537.2 L746.1 540.4 L754.2 543.5 L755.0 551.8 L758.1 559.3 L771.8 546.8 L771.2 554.9 L764.3 561.2 L769.9 563.7 L773.7 566.8 L764.9 569.3 L774.9 575.5 L766.8 577.4 L768.1 580.5 L775.5 583.6 L784.9 578.6 L788.6 584.9 L782.4 586.7 L778.0 591.1 L780.5 594.8 L789.9 593.0 L790.5 601.1 L791.8 609.2 L793.0 617.9 L798.0 619.2 L803.6 623.5 L806.7 631.0 L808.6 639.1 L811.2 646.8 L813.7 654.9 L816.8 656.2 L822.8 647.0" stroke="#d48aa8" stroke-width="4.17" stroke-dasharray="4.17 4.17" stroke-linecap="butt"/>
</g>
<text class="t" x="219.6" y="905">10<tspan class="s" dy="-11.4" dx="0.35">1</tspan></text>
<text class="t" x="320.6" y="905">10<tspan class="s" dy="-11.4" dx="0.35">2</tspan></text>
<text class="t" x="422.6" y="905">10<tspan class="s" dy="-11.4" dx="0.35">3</tspan></text>
<text class="t" x="523.6" y="905">10<tspan class="s" dy="-11.4" dx="0.35">4</tspan></text>
<text class="t" x="624.6" y="905">10<tspan class="s" dy="-11.4" dx="0.35">5</tspan></text>
<text class="t" x="726.6" y="905">10<tspan class="s" dy="-11.4" dx="0.35">6</tspan></text>
<text class="t" x="827.6" y="905">10<tspan class="s" dy="-11.4" dx="0.35">7</tspan></text>
<text class="t" text-anchor="end" x="149.5" y="110.7">10<tspan class="s" dy="-10.5" dx="0.3">−3</tspan></text>
<text class="t" text-anchor="end" x="149.5" y="213.7">10<tspan class="s" dy="-10.5" dx="0.3">−4</tspan></text>
<text class="t" text-anchor="end" x="149.5" y="317.7">10<tspan class="s" dy="-10.5" dx="0.3">−5</tspan></text>
<text class="t" text-anchor="end" x="149.5" y="421.7">10<tspan class="s" dy="-10.5" dx="0.3">−6</tspan></text>
<text class="t" text-anchor="end" x="149.5" y="525.7">10<tspan class="s" dy="-10.5" dx="0.3">−7</tspan></text>
<text class="t" text-anchor="end" x="149.5" y="628.7">10<tspan class="s" dy="-10.5" dx="0.3">−8</tspan></text>
<text class="t" text-anchor="end" x="149.5" y="732.7">10<tspan class="s" dy="-10.5" dx="0.3">−9</tspan></text>
<text class="t" text-anchor="end" x="149.5" y="836.7">10<tspan class="s" dy="-10.5" dx="0.3">−10</tspan></text>
<text class="l" text-anchor="middle" x="555.8" y="949">fragment separation, bp</text>
<text class="l" text-anchor="middle" transform="translate(44.9 437.3) rotate(-90)">probability density</text>
<line x1="952.9" y1="374.0" x2="1014.3" y2="374.0" stroke="#001c7f" stroke-width="4.17" stroke-linecap="round"/>
<text class="t" x="1038.8" y="384.7">44226_2#5</text>
<line x1="953" y1="601" x2="1013.9" y2="601" stroke="#8db7ae" stroke-width="4.17" stroke-dasharray="4.17 4.17"/>
<text class="t" x="1038.7" y="611.5" style="fill:#8db7ae">example good</text>
<line x1="953" y1="645.0" x2="1013.9" y2="645.0" stroke="#d48aa8" stroke-width="4.17" stroke-dasharray="4.17 4.17"/>
<text class="t" x="1038.7" y="656" style="fill:#d48aa8">example bad</text>
</svg></body></html>
